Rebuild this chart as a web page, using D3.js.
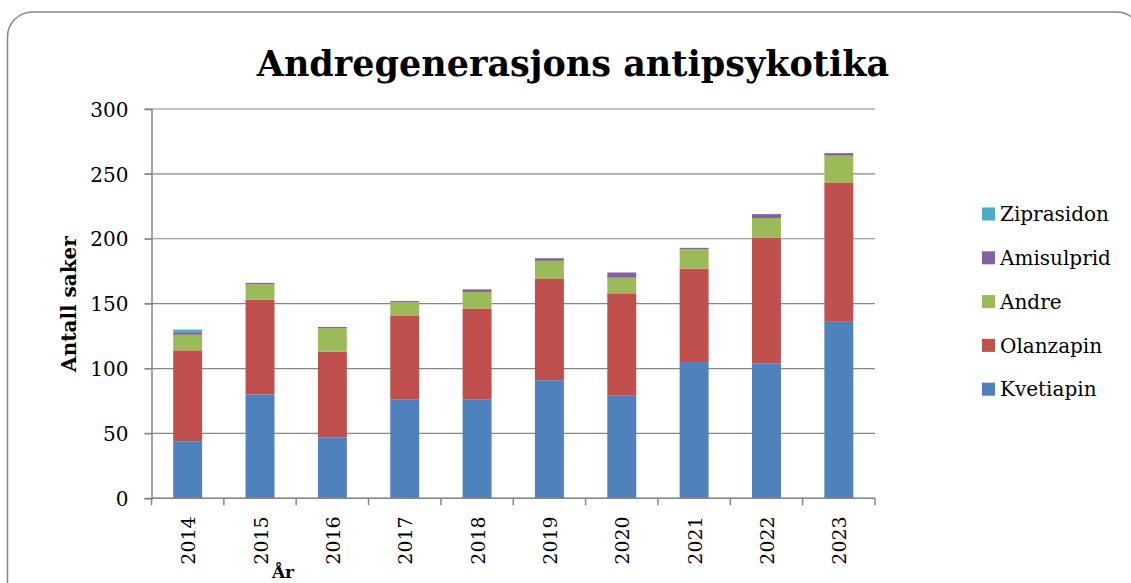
<!doctype html>
<html>
<head>
<meta charset="utf-8">
<title>Andregenerasjons antipsykotika</title>
<script src="https://cdn.jsdelivr.net/npm/d3@7"></script>
<style>
  body { margin: 0; background: #fff; }
  text { font-family: "DejaVu Serif", serif; fill: #000; }
</style>
</head>
<body>
<script>

var years = ["2014", "2015", "2016", "2017", "2018", "2019", "2020", "2021", "2022", "2023"];
var kvetiapin  = [44, 80, 47, 76, 76, 91, 79, 105, 104, 136];
var olanzapin  = [70, 73, 66, 65, 70, 78, 79, 72, 97, 107];
var andre      = [12, 12, 18, 10, 13, 14, 12, 15, 15, 21];
var amisulprid = [2, 1, 1, 1, 2, 2, 4, 1, 3, 2];
var ziprasidon = [2, 0, 0, 0, 0, 0, 0, 0, 0, 0];
var yTicks = [0, 50, 100, 150, 200, 250, 300];

var series = [
  {name: "Kvetiapin", values: kvetiapin, color: "#4F81BD"},
  {name: "Olanzapin", values: olanzapin, color: "#C0504D"},
  {name: "Andre", values: andre, color: "#9BBB59"},
  {name: "Amisulprid", values: amisulprid, color: "#8064A2"},
  {name: "Ziprasidon", values: ziprasidon, color: "#4BACC6"}
];

var width = 1131, height = 583;
var plot = {left: 151.5, right: 875, top: 109, bottom: 498.3};
var gridColor = "#878787";

var svg = d3.select("body").append("svg")
  .attr("width", width).attr("height", height);

// frame
svg.append("rect")
  .attr("x", 7.5).attr("y", 12).attr("width", 1134).attr("height", 600)
  .attr("rx", 25).attr("ry", 25)
  .attr("fill", "#fff").attr("stroke", "#878787").attr("stroke-width", 1.5);

var x = d3.scaleBand().domain(years).range([plot.left, plot.right]).padding(0);
var y = d3.scaleLinear().domain([0, 300]).range([plot.bottom, plot.top]);
var barW = x.bandwidth() * 0.4;

// gridlines
svg.append("g").selectAll("line").data(yTicks).enter().append("line")
  .attr("x1", plot.left - 7).attr("x2", plot.right)
  .attr("y1", function(d) { return y(d); }).attr("y2", function(d) { return y(d); })
  .attr("stroke", gridColor).attr("stroke-width", 1.2);

// stacks
var rows = years.map(function(yr, i) {
  var r = {year: yr};
  series.forEach(function(s) { r[s.name] = s.values[i]; });
  return r;
});
var stack = d3.stack().keys(series.map(function(s) { return s.name; }));
var layers = stack(rows);

svg.append("g").selectAll("g").data(layers).enter().append("g")
  .attr("fill", function(d, i) { return series[i].color; })
  .selectAll("rect").data(function(d) { return d; }).enter().append("rect")
  .attr("x", function(d) { return x(d.data.year) + (x.bandwidth() - barW) / 2; })
  .attr("width", barW)
  .attr("y", function(d) { return y(d[1]); })
  .attr("height", function(d) { return y(d[0]) - y(d[1]); });

// y axis
var yAxis = svg.append("g").attr("transform", "translate(" + plot.left + ",0)")
  .call(d3.axisLeft(y).tickValues(yTicks).tickSize(7).tickPadding(16));
yAxis.select(".domain").attr("stroke", gridColor).attr("stroke-width", 1.5);
yAxis.selectAll(".tick line").attr("stroke", gridColor).attr("stroke-width", 1.2);
yAxis.selectAll("text").style("font-family", "DejaVu Serif").style("font-size", "20px")
  .attr("fill", "#000").attr("dy", "0.36em");

// x axis with ticks at band edges
var edges = years.map(function(d) { return x(d); }).concat([plot.right]);
var xg = svg.append("g");
xg.append("line").attr("x1", plot.left).attr("x2", plot.right)
  .attr("y1", plot.bottom).attr("y2", plot.bottom)
  .attr("stroke", gridColor).attr("stroke-width", 1.5);
xg.selectAll(".tk").data(edges).enter().append("line")
  .attr("x1", function(d) { return d; }).attr("x2", function(d) { return d; })
  .attr("y1", plot.bottom).attr("y2", plot.bottom + 7)
  .attr("stroke", gridColor).attr("stroke-width", 1.5);
xg.selectAll("text").data(years).enter().append("text")
  .attr("transform", function(d) {
    return "translate(" + (x(d) + x.bandwidth() / 2 + 7.5) + "," + (plot.bottom + 18) + ") rotate(-90)";
  })
  .attr("text-anchor", "end")
  .style("font-size", "19px")
  .text(function(d) { return d; });

// titles
svg.append("text").attr("x", 573).attr("y", 76).attr("text-anchor", "middle")
  .style("font-size", "35px").style("font-weight", "bold")
  .text("Andregenerasjons antipsykotika");

svg.append("text").attr("transform", "translate(76,304) rotate(-90)")
  .attr("text-anchor", "middle")
  .style("font-size", "20px").style("font-weight", "bold")
  .text("Antall saker");

svg.append("text").attr("x", 283).attr("y", 578).attr("text-anchor", "middle")
  .style("font-size", "17px").style("font-weight", "bold")
  .text("År");

// legend, top to bottom reversed
var legend = svg.append("g").selectAll("g").data(series.slice().reverse()).enter().append("g")
  .attr("transform", function(d, i) { return "translate(982," + (214 + i * 43.8) + ")"; });
legend.append("rect").attr("x", 0).attr("y", -6.5).attr("width", 13).attr("height", 13)
  .attr("fill", function(d) { return d.color; });
legend.append("text").attr("x", 18).attr("y", 0).attr("dy", "0.36em")
  .style("font-size", "20px")
  .text(function(d) { return d.name; });

</script>
</body>
</html>
